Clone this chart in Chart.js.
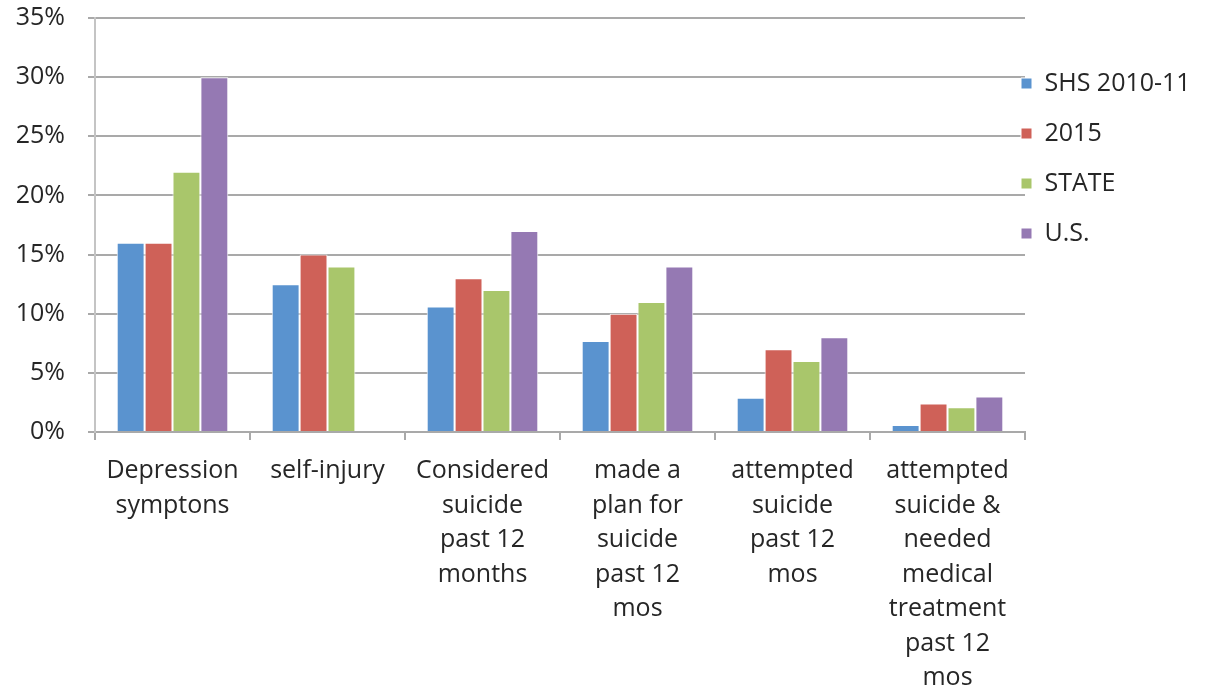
<!DOCTYPE html>
<html>
<head>
<meta charset="utf-8">
<script src="https://cdn.jsdelivr.net/npm/chart.js@4/dist/chart.umd.min.js"></script>
<style>
  html, body { margin: 0; padding: 0; background: #fff; }
  canvas { display: block; }
</style>
</head>
<body>
<canvas id="chart" width="1219" height="688"></canvas>
<script>
// data
const categories = [
  ["Depression", "symptons"],
  ["self-injury"],
  ["Considered", "suicide", "past 12", "months"],
  ["made a", "plan for", "suicide", "past 12", "mos"],
  ["attempted", "suicide", "past 12", "mos"],
  ["attempted", "suicide &", "needed", "medical", "treatment", "past 12", "mos"]
];
const seriesNames = ["SHS 2010-11", "2015", "STATE", "U.S."];
const shs = [16, 12.5, 10.6, 7.7, 2.9, 0.6];
const y2015 = [16, 15, 13, 10, 7, 2.4];
const state = [22, 14, 12, 11, 6, 2.1];
const us = [30, null, 17, 14, 8, 3];
const colors = ["#5a93cf", "#cf6158", "#a9c66b", "#9579b3"];

const FONT = "'Open Sans', 'DejaVu Sans', sans-serif";
const TEXT = "#262626";
const GRID = "#a9a9a9";

// the legend in the original sits a little over the end of the grid lines
const legendShift = {
  id: "legendShift",
  afterLayout(chart) {
    chart.legend.left -= 29;
    chart.legend.right -= 29;
  }
};

const series = [shs, y2015, state, us];

new Chart(document.getElementById("chart"), {
  type: "bar",
  data: {
    labels: categories,
    datasets: series.map((vals, i) => ({
      label: seriesNames[i],
      data: vals,
      backgroundColor: colors[i],
      borderColor: "#ffffff",
      borderWidth: 1,
      categoryPercentage: 0.72,
      barPercentage: 1.0
    }))
  },
  options: {
    responsive: false,
    animation: false,
    layout: { padding: { top: 18, left: 0, right: 0, bottom: 0 } },
    plugins: {
      tooltip: { enabled: false },
      legend: {
        position: "right",
        align: "start",
        maxWidth: 194,
        title: { display: true, text: "", font: { size: 10, lineHeight: 1 }, padding: { top: 18, bottom: 0 } },
        labels: {
          boxWidth: 11,
          boxHeight: 11,
          padding: 25,
          color: TEXT,
          font: { family: FONT, size: 25 }
        }
      }
    },
    scales: {
      x: {
        afterFit(scale) { scale.height = 256; },
        grid: {
          offset: true,
          drawOnChartArea: false,
          drawTicks: true,
          tickLength: 8,
          color: GRID,
          lineWidth: 2
        },
        border: { color: GRID, width: 2 },
        ticks: {
          autoSkip: false,
          maxRotation: 0,
          minRotation: 0,
          padding: 14,
          color: TEXT,
          font: { family: FONT, size: 25, lineHeight: 1.38 }
        }
      },
      y: {
        min: 0,
        max: 35,
        afterFit(scale) {
          scale.width = 95;
          scale.paddingTop = 0;
        },
        grid: {
          color: GRID,
          lineWidth: 2,
          tickLength: 7
        },
        border: { color: "#c4c4c4", width: 2 },
        ticks: {
          stepSize: 5,
          padding: 23,
          color: TEXT,
          font: { family: FONT, size: 25 },
          callback: (v) => v + "%"
        }
      }
    }
  },
  plugins: [legendShift]
});
</script>
</body>
</html>
